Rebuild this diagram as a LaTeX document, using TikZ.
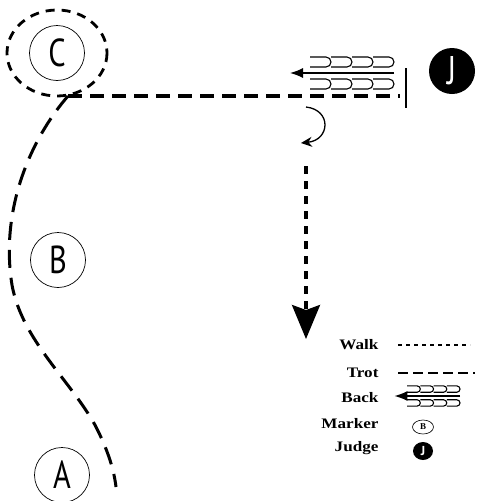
\documentclass[tikz,border=0pt]{standalone}
\usepackage{fontspec}
\usepackage{graphicx}
\setmainfont{Liberation Serif}
\newfontfamily\mkfont{PT Sans}
\usetikzlibrary{arrows.meta,shapes.geometric}
\tikzset{
  trotline/.style={line width=3.2pt, dash pattern=on 14pt off 8pt},
  trotcurve/.style={line width=3pt, dash pattern=on 18pt off 10pt},
  trotloop/.style={line width=2.8pt, dash pattern=on 9pt off 7pt},
  walkline/.style={line width=3.2pt, dash pattern=on 8pt off 7pt},
  marker/.style={circle, draw, line width=0.7pt, minimum size=55pt, inner sep=0pt, font=\mkfont\fontsize{39}{39}\selectfont},
  judge/.style={circle, fill=black, text=white, minimum size=46pt, inner sep=0pt, font=\mkfont\fontsize{40}{40}\selectfont},
  legtext/.style={anchor=east, font=\bfseries\fontsize{14.5}{15}\selectfont},
  backsym/.pic={
    \foreach \row in {-11,11}{
      \foreach \i in {0,1,2,3}{
        \draw[line width=1.1pt] (-84+\i*21,\row-5) -- (-84+\i*21+16,\row-5)
          arc[start angle=-90, end angle=90, radius=5] -- (-84+\i*21,\row+5);
      }
    }
    \draw[line width=1.4pt, -{Latex[length=13pt,width=10pt]}] (0,0) -- (-104,0);
  }
}
\newcommand{\narrow}[1]{\scalebox{0.78}[1]{#1}}
\newcommand{\wide}[1]{\scalebox{1.18}[1]{#1}}
\begin{document}
\begin{tikzpicture}[x=1pt,y=-1pt]
\useasboundingbox (0,0) rectangle (478,501);
% markers
\node[marker] (C) at (57,53) {\narrow{C}};
\node[marker] (B) at (58,260) {\narrow{B}};
\node[marker] (A) at (62,475) {\narrow{A}};
% judge
\node[judge] (J) at (452,71) {\narrow{J}};
% dashed loop around C
\draw[trotloop] (57,53) ellipse[x radius=50, y radius=43];
% trot path
\coordinate (corner) at (68,96);
\coordinate (lineend) at (400,96);
\coordinate (curveend) at (116,487);
\draw[trotline] (corner) -- (lineend);
\draw[trotcurve] (corner) .. controls (30,140) and (0,210) .. (12,285)
  .. controls (22,340) and (70,380) .. (95,425)
  .. controls (108,450) and (114,470) .. (curveend);
% halt bar
\coordinate (bartop) at (406,68);
\coordinate (barbot) at (406,108);
\draw[line width=2pt] (bartop) -- (barbot);
% back
\pic at (394,73) {backsym};
% turn arrow
\coordinate (t1) at (306,107);
\coordinate (t2) at (301,143);
\draw[line width=1.3pt, -{Stealth[length=11pt,width=10pt]}] (t1) .. controls (332,110) and (330,140) .. (t2);
% walk arrow
\coordinate (w1) at (306,166);
\coordinate (w2) at (306,339);
\draw[walkline, -{Stealth[length=34pt,width=28pt,inset=5pt]}] (w1) -- (w2);
% legend
\node[legtext] (lw) at (382,345) {\wide{Walk}};
\node[legtext] (lt) at (382,373) {\wide{Trot}};
\node[legtext] (lb) at (382,398) {\wide{Back}};
\node[legtext] (lm) at (382,424) {\wide{Marker}};
\node[legtext] (lj) at (382,448) {\wide{Judge}};
\draw[line width=1.4pt, dash pattern=on 4pt off 4pt] (398,345) -- (470,345);
\draw[line width=1.6pt, dash pattern=on 10pt off 5pt] (398,373) -- (475,373);
\pic[scale=0.63] at (460,396) {backsym};
\node[ellipse, draw, line width=0.6pt, minimum width=21pt, minimum height=14pt, inner sep=0pt, font=\bfseries\fontsize{9}{9}\selectfont] (mB) at (423,427) {B};
\node[ellipse, fill=black, text=white, minimum width=20pt, minimum height=18pt, inner sep=0pt, font=\mkfont\bfseries\fontsize{13}{13}\selectfont] (mJ) at (423,451) {J};
\end{tikzpicture}
\end{document}
